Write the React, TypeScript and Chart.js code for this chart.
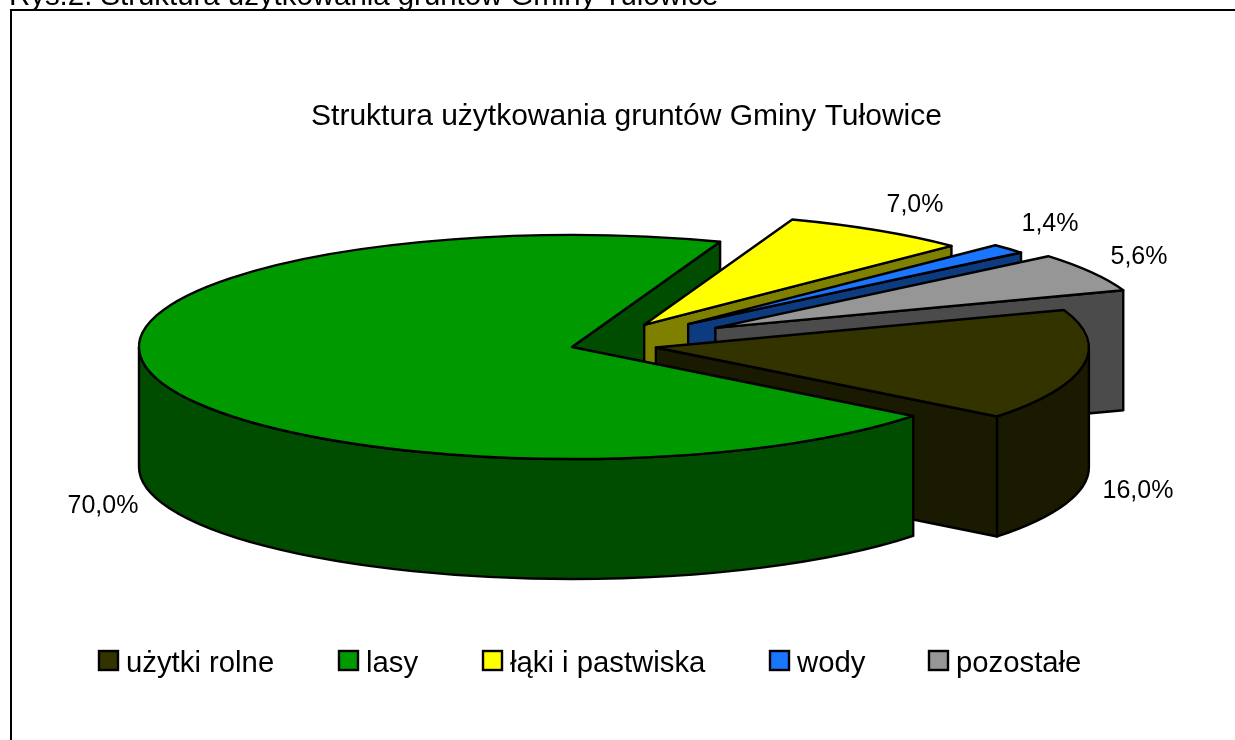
import React, { useEffect, useRef } from "react";
import { Chart, registerables } from "chart.js";

Chart.register(...registerables);

const CATEGORIES = ["użytki rolne", "lasy", "łąki i pastwiska", "wody", "pozostałe"];
const VALUES = [16.0, 70.0, 7.0, 1.4, 5.6];
const VALUE_LABELS = ["16,0%", "70,0%", "7,0%", "1,4%", "5,6%"];
const TOP_COLORS = ["#333300", "#009900", "#FFFF00", "#1A75FF", "#969696"];
const SIDE_COLORS = ["#1A1A00", "#004D00", "#808000", "#0D3B80", "#4B4B4B"];
const EXPLODE = [85, 0, 134, 157, 165];
const EXPLODE_LIFT = [-3, 0, 7, 4.5, 2];
const LABEL_CENTERS = [[1138, 491], [103, 506], [915, 205], [1050, 224], [1139, 257]];
const LEGEND_X = [99, 339, 483, 770, 929];

const HEADING = "Rys.2. Struktura użytkowania gruntów Gminy Tułowice";
const TITLE = "Struktura użytkowania gruntów Gminy Tułowice";
const FONT = "'Liberation Sans', Arial, sans-serif";

const TILT = 0.2587;
const DEPTH = 120;
const PIE_DX = -54.5;

const pie3d = {
  id: "pie3d",
  beforeDatasetDraw(chart: any) {
    const ctx = chart.ctx as CanvasRenderingContext2D;
    const arcs = chart.getDatasetMeta(0).data as any[];
    const items = arcs.map((a, i) => {
      const p = a.getProps(["x", "y", "startAngle", "endAngle", "outerRadius"], true);
      const mid = (p.startAngle + p.endAngle) / 2;
      const off = a.options.offset || 0;
      return {
        i,
        s: p.startAngle,
        e: p.endAngle,
        mid,
        r: p.outerRadius,
        cx: p.x + PIE_DX + off * Math.cos(mid),
        cy: p.y + off * Math.sin(mid) * TILT + EXPLODE_LIFT[i],
      };
    });
    ctx.save();
    ctx.lineWidth = 2.4;
    ctx.strokeStyle = "#000";
    ctx.lineJoin = "round";

    const wall = (it: any, ang: number) => {
      const rx = it.cx + it.r * Math.cos(ang);
      const ry = it.cy + it.r * TILT * Math.sin(ang);
      ctx.beginPath();
      ctx.moveTo(it.cx, it.cy);
      ctx.lineTo(rx, ry);
      ctx.lineTo(rx, ry + DEPTH);
      ctx.lineTo(it.cx, it.cy + DEPTH);
      ctx.closePath();
      ctx.fillStyle = SIDE_COLORS[it.i];
      ctx.fill();
      ctx.stroke();
    };
    const rim = (it: any) => {
      for (const k of [0, 2]) {
        const a = Math.max(it.s, k * Math.PI);
        const b = Math.min(it.e, k * Math.PI + Math.PI);
        if (b <= a) continue;
        ctx.beginPath();
        ctx.ellipse(it.cx, it.cy, it.r, it.r * TILT, 0, a, b);
        ctx.ellipse(it.cx, it.cy + DEPTH, it.r, it.r * TILT, 0, b, a, true);
        ctx.closePath();
        ctx.fillStyle = SIDE_COLORS[it.i];
        ctx.fill();
        ctx.stroke();
      }
    };
    const top = (it: any) => {
      ctx.beginPath();
      ctx.moveTo(it.cx, it.cy);
      ctx.ellipse(it.cx, it.cy, it.r, it.r * TILT, 0, it.s, it.e);
      ctx.closePath();
      ctx.fillStyle = TOP_COLORS[it.i];
      ctx.fill();
      ctx.stroke();
    };

    // back wall of the big slice sits behind all exploded slices
    const wide = items.filter((it) => it.e - it.s > Math.PI);
    wide.forEach((it) => wall(it, it.e));
    [...items]
      .sort((a, b) => Math.sin(a.mid) - Math.sin(b.mid))
      .forEach((it) => {
        if (it.e - it.s <= Math.PI && Math.cos(it.e) > 0) wall(it, it.e);
        if (-Math.cos(it.s) > 0) wall(it, it.s);
        rim(it);
        top(it);
      });

    // value labels
    ctx.fillStyle = "#000";
    ctx.font = `25px ${FONT}`;
    ctx.textAlign = "center";
    ctx.textBaseline = "middle";
    items.forEach((it) => {
      const [x, y] = LABEL_CENTERS[it.i];
      ctx.fillText(VALUE_LABELS[it.i], x, y);
    });
    ctx.restore();
    return false;
  },
  afterDraw(chart: any) {
    const ctx = chart.ctx as CanvasRenderingContext2D;
    ctx.save();
    // page heading cut by the top edge and the chart frame
    ctx.fillStyle = "#000";
    ctx.textBaseline = "alphabetic";
    ctx.textAlign = "left";
    ctx.font = `29.4px ${FONT}`;
    ctx.fillText(HEADING, 9, 5);
    ctx.strokeStyle = "#000";
    ctx.lineWidth = 2;
    ctx.beginPath();
    ctx.moveTo(11, 760);
    ctx.lineTo(11, 10);
    ctx.lineTo(1240, 10);
    ctx.stroke();
    // legend
    ctx.font = `29.3px ${FONT}`;
    ctx.lineWidth = 2.4;
    CATEGORIES.forEach((name, i) => {
      const x = LEGEND_X[i];
      ctx.fillStyle = TOP_COLORS[i];
      ctx.fillRect(x, 651, 19, 19);
      ctx.strokeRect(x, 651, 19, 19);
      ctx.fillStyle = "#000";
      ctx.fillText(name, x + 27, 672);
    });
    ctx.restore();
  },
};

export default function App() {
  const ref = useRef<HTMLCanvasElement | null>(null);
  useEffect(() => {
    const chart = new Chart(ref.current as HTMLCanvasElement, {
      type: "pie",
      data: {
        labels: CATEGORIES,
        datasets: [
          {
            data: VALUES,
            backgroundColor: TOP_COLORS,
            borderColor: "#000",
            borderWidth: 2,
            offset: EXPLODE,
            radius: 433,
            clip: false,
          } as any,
        ],
      },
      options: {
        animation: false,
        responsive: false,
        rotation: 70.4,
        layout: { padding: { left: 18, right: 0, top: 0, bottom: 181 } },
        plugins: {
          legend: { display: false },
          tooltip: { enabled: false },
          title: {
            display: true,
            text: TITLE,
            color: "#000",
            font: { family: FONT, size: 30, weight: "normal" },
            padding: { top: 99, bottom: 0 },
          },
        },
      } as any,
      plugins: [pie3d],
    });
    return () => chart.destroy();
  }, []);
  return (
    <div style={{ position: "fixed", left: 0, top: 0, width: 1235, height: 740, background: "#fff", overflow: "hidden" }}>
      <canvas ref={ref} width={1235} height={740} style={{ display: "block" }} />
    </div>
  );
}
